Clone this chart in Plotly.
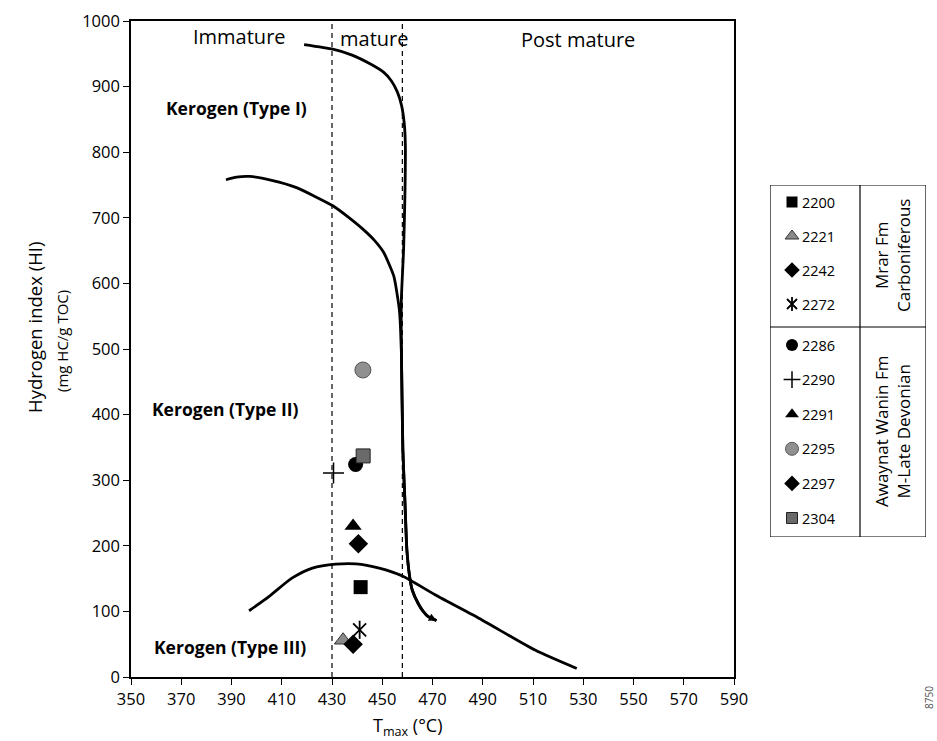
import plotly.graph_objects as go

W, H = 937, 741

# ---------------- data ----------------
samples = ["2200", "2221", "2242", "2272", "2286", "2290", "2291", "2295", "2297", "2304"]
tmax = [441.4, 434.4, 438.4, 441.0, 439.4, 430.6, 438.4, 442.3, 440.5, 442.4]
hi_vals = [137, 56, 50, 72, 324, 311, 230, 468, 203, 337]

group_labels = ["Mrar Fm<br>Carboniferous", "Awaynat Wanin Fm<br>M-Late Devonian"]
group_sizes = [4, 6]

type1_t = [418.9, 430.3, 438.0, 445.5, 450.5, 453.6, 456.0, 457.7, 458.8, 459.2, 459.0, 458.5, 457.6, 457.6,
           458.2, 459.0, 459.8, 460.9, 461.9, 464.3, 466.3, 468.3, 471.6]
type1_hi = [964, 957, 948, 934, 922, 909, 892, 871, 842, 810, 730, 652, 575, 500,
            347, 270, 194, 153, 133, 112, 100, 92, 86]

type2_t = [387.8, 392.0, 397.3, 406.0, 415.9, 423.0, 430.5, 436.5, 442.5, 446.8, 450.6, 454.6, 456.8, 457.6,
           458.2, 459.0, 459.8, 460.9, 461.9, 464.3, 466.3, 468.3, 471.6]
type2_hi = [758, 762, 763, 757, 746, 733, 718, 701, 682, 666, 647, 611, 560, 500,
            347, 270, 194, 153, 133, 112, 100, 92, 86]

type3_t = [397.0, 405.0, 414.2, 422.2, 431.5, 439.5, 448.8, 458.0, 471.2, 489.7, 510.8, 527.4]
type3_hi = [101, 123, 151, 166, 172, 172.5, 166, 154, 125, 87, 41, 13]

maturity_bounds = [430, 458]
zone_labels = ["Immature", "mature", "Post mature"]
kerogen_labels = ["Kerogen (Type I)", "Kerogen (Type II)", "Kerogen (Type III)"]
x_ticks = list(range(350, 591, 20))
y_ticks = list(range(0, 1001, 100))

# ---------------- styles ----------------
FONT = "Open Sans"
styles = [
    dict(symbols=["square"], size=14, color="black", lc="black", lw=0),
    dict(symbols=["triangle-up"], size=15, color="#8a8a8a", lc="#333333", lw=1),
    dict(symbols=["diamond"], size=15, color="black", lc="black", lw=0),
    dict(symbols=["x-thin-open", "line-ns-open"], size=13, color="black", lc="black", lw=1.8),
    dict(symbols=["circle"], size=15, color="black", lc="black", lw=0),
    dict(symbols=["cross-thin-open"], size=15, color="black", lc="black", lw=1.5),
    dict(symbols=["triangle-up"], size=15, color="black", lc="black", lw=0),
    dict(symbols=["circle"], size=16, color="#909090", lc="#555555", lw=1),
    dict(symbols=["diamond"], size=15, color="black", lc="black", lw=0),
    dict(symbols=["square"], size=14, color="#6a6a6a", lc="#222222", lw=1),
]


def px(x):
    return x / W


def py(y):
    return 1 - y / H


fig = go.Figure()

# curves
for tx, hy in [(type1_t, type1_hi), (type2_t, type2_hi)]:
    fig.add_trace(go.Scatter(
        x=tx, y=hy, mode="lines",
        line=dict(color="black", width=2.8, shape="spline", smoothing=0.5),
        hoverinfo="skip", showlegend=False))
fig.add_trace(go.Scatter(
    x=type3_t, y=type3_hi, mode="lines",
    line=dict(color="black", width=2.8, shape="spline", smoothing=0.7),
    hoverinfo="skip", showlegend=False))

# samples
for i, s in enumerate(samples):
    st = styles[i]
    for sym in st["symbols"]:
        fig.add_trace(go.Scatter(
            x=[tmax[i]], y=[hi_vals[i]], mode="markers",
            marker=dict(symbol=sym, size=st["size"], color=st["color"],
                        line=dict(color=st["lc"], width=st["lw"])),
            name=s, showlegend=False, hoverinfo="skip"))

# legend subplot (pixel coordinates)
LX0, LX1, LY0, LY1 = 770, 926, 185, 537
LDIV_X, LDIV_Y = 860, 327
row_y = []
for i in range(len(samples)):
    if i < group_sizes[0]:
        row_y.append(202 + 34 * i)
    else:
        row_y.append(345 + 34.6 * (i - group_sizes[0]))

for i, s in enumerate(samples):
    st = styles[i]
    for sym in st["symbols"]:
        fig.add_trace(go.Scatter(
            x=[792], y=[row_y[i]], mode="markers", xaxis="x2", yaxis="y2",
            marker=dict(symbol=sym, size=st["size"] - 3, color=st["color"],
                        line=dict(color=st["lc"], width=st["lw"])),
            showlegend=False, hoverinfo="skip"))

shapes = []
for b in maturity_bounds:
    shapes.append(dict(type="line", xref="x", yref="y", x0=b, x1=b, y0=0, y1=1000,
                       line=dict(color="black", width=1.2, dash="5px,4px")))
shapes.append(dict(type="rect", xref="x2", yref="y2", x0=LX0, x1=LX1, y0=LY0, y1=LY1,
                   line=dict(color="black", width=1.2)))
shapes.append(dict(type="line", xref="x2", yref="y2", x0=LDIV_X, x1=LDIV_X, y0=LY0, y1=LY1,
                   line=dict(color="black", width=1.2)))
shapes.append(dict(type="line", xref="x2", yref="y2", x0=LX0, x1=LX1, y0=LDIV_Y, y1=LDIV_Y,
                   line=dict(color="black", width=1.2)))

ann = []


def add_text(text, x, y, size, xanchor="left", angle=0, bold=False, color="black"):
    ann.append(dict(text=("<b>%s</b>" % text) if bold else text, x=px(x), y=py(y),
                    xref="paper", yref="paper", xanchor=xanchor, yanchor="middle",
                    showarrow=False, textangle=angle,
                    font=dict(family=FONT, size=size, color=color)))


for lab, (x, y) in zip(zone_labels, [(191, 36), (338, 39), (519, 40)]):
    add_text(lab, x, y, 20)
for lab, (x, y) in zip(kerogen_labels, [(164, 108), (150, 409), (152, 647)]):
    add_text(lab, x, y, 17.5, bold=True)
add_text("Hydrogen index (HI)", 35, 328, 18.5, xanchor="center", angle=-90)
add_text("(mg HC/g TOC)", 62, 341, 15, xanchor="center", angle=-90)
add_text("T<sub>max</sub> (°C)", 408, 726, 18, xanchor="center")
add_text(group_labels[0], 893, (LY0 + LDIV_Y) / 2, 17, xanchor="center", angle=-90)
add_text(group_labels[1], 893, (LDIV_Y + LY1) / 2, 17, xanchor="center", angle=-90)
add_text("8750", 929, 698, 10, xanchor="center", angle=-90, color="#555555")

for i, s in enumerate(samples):
    ann.append(dict(text=s, x=800, y=row_y[i], xref="x2", yref="y2",
                    xanchor="left", yanchor="middle", showarrow=False,
                    font=dict(family=FONT, size=14.5, color="black")))

# arrowhead at the end of the Type I / II maturation path
ann.append(dict(x=type1_t[-1], y=type1_hi[-1], ax=type1_t[-2], ay=type1_hi[-2],
                xref="x", yref="y", axref="x", ayref="y", text="", showarrow=True,
                arrowhead=2, arrowsize=0.7, arrowwidth=2.2, arrowcolor="black"))

axis_common = dict(showgrid=False, zeroline=False, showline=True, mirror=True,
                   linecolor="black", linewidth=1.5, ticks="outside", ticklen=6,
                   tickwidth=1.2, tickcolor="black", automargin=False,
                   tickfont=dict(family=FONT, size=16.5, color="black"))

fig.update_layout(
    template="none",
    width=W, height=H, margin=dict(l=0, r=0, t=0, b=0, pad=0, autoexpand=False),
    paper_bgcolor="white", plot_bgcolor="white",
    showlegend=False, shapes=shapes, annotations=ann,
    xaxis=dict(domain=[px(131), px(734)], range=[350, 590], tickvals=x_ticks, **axis_common),
    yaxis=dict(domain=[py(677), py(21)], range=[0, 1000], tickvals=y_ticks, **axis_common),
    xaxis2=dict(domain=[px(LX0), px(LX1)], range=[LX0, LX1], visible=False, anchor="y2",
                automargin=False),
    yaxis2=dict(domain=[py(LY1), py(LY0)], range=[LY1, LY0], visible=False, anchor="x2",
                automargin=False),
)

fig.write_html("out.html", config={"displayModeBar": False})
